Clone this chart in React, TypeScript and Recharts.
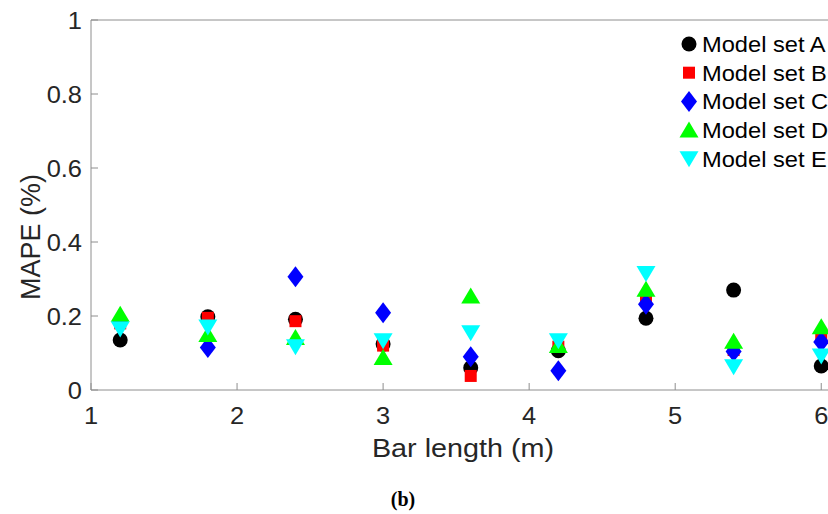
import React from 'react';
import { ScatterChart, Scatter, XAxis, YAxis, ReferenceLine } from 'recharts';

const barLengths = [1.2, 1.8, 2.4, 3.0, 3.6, 4.2, 4.8, 5.4, 6.0];
const setA = [0.135, 0.198, 0.191, 0.124, 0.06, 0.106, 0.194, 0.27, 0.065];
const setB = [0.18, 0.195, 0.186, 0.12, 0.038, 0.117, 0.243, 0.108, 0.142];
const setC = [0.184, 0.115, 0.306, 0.209, 0.09, 0.052, 0.232, 0.104, 0.13];
const setD = [0.205, 0.15, 0.142, 0.088, 0.254, 0.12, 0.272, 0.132, 0.171];
const setE = [0.165, 0.17, 0.117, 0.133, 0.155, 0.133, 0.315, 0.063, 0.092];

const seriesNames = ['Model set A', 'Model set B', 'Model set C', 'Model set D', 'Model set E'];
const seriesColors = ['#000000', '#ff0000', '#0000ff', '#00ff00', '#00ffff'];
const seriesShapes = ['circle', 'square', 'diamond', 'triUp', 'triDown'];
const seriesValues = [setA, setB, setC, setD, setE];

const xTicks = [1, 2, 3, 4, 5, 6];
const yTicks = [0, 0.2, 0.4, 0.6, 0.8, 1];

const xLabel = 'Bar length (m)';
const yLabel = 'MAPE (%)';
const caption = '(b)';

const AXIS = '#8e8e8e';
const TEXT = '#262626';
const FONT = '"Liberation Sans", Arial, Helvetica, sans-serif';

const toPoints = (vals: number[]) => barLengths.map((x, i) => ({ x, y: vals[i] }));

function Marker({ kind, color, cx, cy }: { kind: string; color: string; cx: number; cy: number }) {
  if (kind === 'circle') return <circle cx={cx} cy={cy} r={7.5} fill={color} />;
  if (kind === 'square') return <rect x={cx - 6} y={cy - 6} width={12} height={12} fill={color} />;
  if (kind === 'diamond')
    return <polygon points={`${cx},${cy - 10.5} ${cx + 8},${cy} ${cx},${cy + 10.5} ${cx - 8},${cy}`} fill={color} />;
  if (kind === 'triUp')
    return <polygon points={`${cx},${cy - 8.5} ${cx + 9.5},${cy + 7.5} ${cx - 9.5},${cy + 7.5}`} fill={color} />;
  return <polygon points={`${cx},${cy + 8.5} ${cx + 9.5},${cy - 7.5} ${cx - 9.5},${cy - 7.5}`} fill={color} />;
}

const makeShape = (kind: string, color: string) => (props: any) =>
  <Marker kind={kind} color={color} cx={props.cx} cy={props.cy} />;

function SText({ x, y, size, sx, anchor, fill, children, rotate }: any) {
  return (
    <text
      transform={`translate(${x},${y})${rotate ? ` rotate(${rotate})` : ''} scale(${sx},1)`}
      x={0}
      y={0}
      textAnchor={anchor}
      fontSize={size}
      fill={fill}
      fontFamily={FONT}
    >
      {children}
    </text>
  );
}

const XTick = (props: any) => {
  const { x, y, payload } = props;
  return (
    <g>
      <line x1={x} x2={x} y1={y} y2={y - 7} stroke={AXIS} strokeWidth={1} />
      <SText x={x} y={y + 34} size={24} sx={1.06} anchor="middle" fill={TEXT}>
        {String(payload.value)}
      </SText>
    </g>
  );
};

const YTick = (props: any) => {
  const { x, y, payload } = props;
  return (
    <g>
      <line x1={x} x2={x + 7} y1={y} y2={y} stroke={AXIS} strokeWidth={1} />
      <SText x={x - 9} y={y + 8.5} size={24} sx={1.06} anchor="end" fill={TEXT}>
        {String(payload.value)}
      </SText>
    </g>
  );
};

const legendX = 689;
const legendTextX = 702;
const legendTop = 44;
const legendStep = 28.7;

export default function App() {
  return (
    <div style={{ position: 'absolute', left: 0, top: 0, width: 828, height: 514, overflow: 'hidden', background: '#fff' }}>
      <ScatterChart width={830} height={514} margin={{ top: 20, right: 0, bottom: 0, left: 0 }}>
        <XAxis
          type="number"
          dataKey="x"
          domain={[1, 6.06]}
          ticks={xTicks}
          height={124}
          stroke={AXIS}
          tickLine={false}
          tickSize={0}
          tickMargin={0}
          tick={<XTick />}
          interval={0}
        />
        <YAxis
          type="number"
          dataKey="y"
          domain={[0, 1]}
          ticks={yTicks}
          width={91}
          stroke={AXIS}
          tickLine={false}
          tickSize={0}
          tickMargin={0}
          tick={<YTick />}
          interval={0}
        />
        <ReferenceLine y={1} stroke={AXIS} strokeWidth={1} />
        {seriesValues.map((vals, i) => (
          <Scatter
            key={seriesNames[i]}
            name={seriesNames[i]}
            data={toPoints(vals)}
            fill={seriesColors[i]}
            shape={makeShape(seriesShapes[i], seriesColors[i])}
            isAnimationActive={false}
          />
        ))}
      </ScatterChart>
      <svg width={828} height={514} style={{ position: 'absolute', left: 0, top: 0, pointerEvents: 'none' }}>
        {seriesNames.map((name, i) => {
          const cy = legendTop + i * legendStep;
          return (
            <g key={name}>
              <Marker kind={seriesShapes[i]} color={seriesColors[i]} cx={legendX} cy={cy} />
              <SText x={legendTextX} y={cy + 7.8} size={21.5} sx={1.1} anchor="start" fill="#000">
                {name}
              </SText>
            </g>
          );
        })}
        <SText x={40} y={237} size={27} sx={1} anchor="middle" fill={TEXT} rotate={-90}>
          {yLabel}
        </SText>
        <SText x={463} y={457} size={25} sx={1.15} anchor="middle" fill={TEXT}>
          {xLabel}
        </SText>
        <text
          x={403}
          y={506}
          textAnchor="middle"
          fontSize={20}
          fontWeight="bold"
          fill="#000"
          fontFamily='"Liberation Serif", "Times New Roman", serif'
        >
          {caption}
        </text>
      </svg>
    </div>
  );
}
